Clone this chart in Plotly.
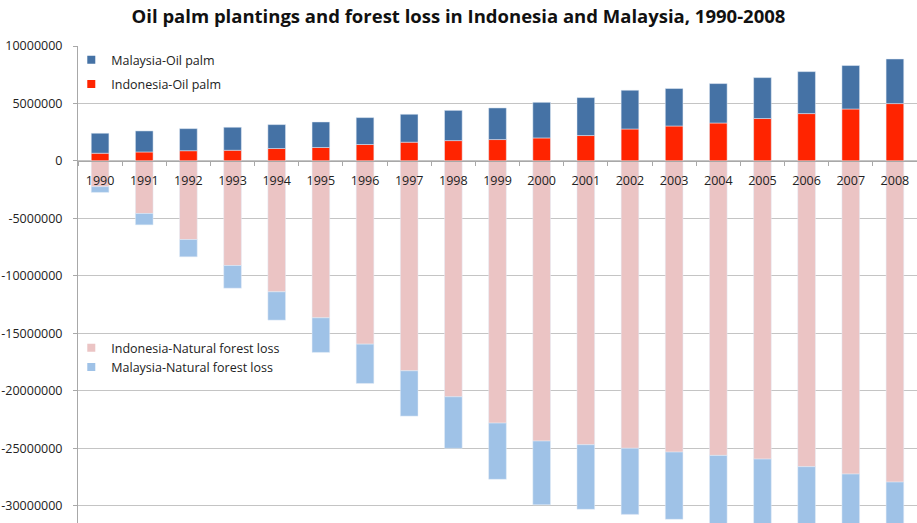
import plotly.graph_objects as go

years = [str(y) for y in range(1990, 2009)]
# Oil palm planted area (positive stack)
indonesia_palm = [670000, 780000, 890000, 930000, 1080000, 1170000, 1430000, 1630000, 1770000,
                  1860000, 2000000, 2210000, 2780000, 3040000, 3300000, 3690000, 4120000, 4520000, 4990000]
palm_total = [2410000, 2610000, 2810000, 2930000, 3160000, 3390000, 3770000, 4060000, 4400000,
              4610000, 5100000, 5510000, 6150000, 6300000, 6730000, 7250000, 7770000, 8300000, 8870000]
malaysia_palm = [t - i for t, i in zip(palm_total, indonesia_palm)]
# Natural forest loss (negative stack)
indonesia_loss = [-2240000, -4570000, -6840000, -9100000, -11390000, -13650000, -15940000, -18260000,
                  -20520000, -22810000, -24370000, -24690000, -25000000, -25330000, -25620000,
                  -25940000, -26600000, -27240000, -27940000]
malaysia_loss = [-500000, -990000, -1500000, -1970000, -2460000, -3010000, -3420000, -3940000,
                 -4480000, -4890000, -5550000, -5620000, -5750000, -5850000, -6000000,
                 -6100000, -6200000, -6300000, -6400000]
y_ticks = [10000000, 5000000, 0, -5000000, -10000000, -15000000, -20000000, -25000000, -30000000]

C_MY_PALM = "#4572A5"
C_ID_PALM = "#FF2400"
C_ID_LOSS = "#EBC4C4"
C_MY_LOSS = "#9FC2E7"

FONT = "Open Sans"
W, H = 917, 523

fig = go.Figure()
fig.add_trace(go.Bar(x=years, y=indonesia_palm, name="Indonesia-Oil palm", marker_color=C_ID_PALM,
                     showlegend=False))
fig.add_trace(go.Bar(x=years, y=malaysia_palm, name="Malaysia-Oil palm", marker_color=C_MY_PALM,
                     showlegend=False))
fig.add_trace(go.Bar(x=years, y=indonesia_loss, name="Indonesia-Natural forest loss",
                     marker_color=C_ID_LOSS, showlegend=False))
fig.add_trace(go.Bar(x=years, y=malaysia_loss, name="Malaysia-Natural forest loss",
                     marker_color=C_MY_LOSS, showlegend=False))

# legend entries (small square swatches)
legend_items = [
    ("Malaysia-Oil palm", C_MY_PALM, "legend", "g1"),
    ("Indonesia-Oil palm", C_ID_PALM, "legend", "g2"),
    ("Indonesia-Natural forest loss", C_ID_LOSS, "legend2", "g3"),
    ("Malaysia-Natural forest loss", C_MY_LOSS, "legend2", "g4"),
]
for name, col, leg, grp in legend_items:
    fig.add_trace(go.Scatter(x=[None], y=[None], mode="markers", name=name, legend=leg,
                             legendgroup=grp,
                             marker=dict(symbol="square", size=8, color=col)))

fig.update_layout(
    width=W, height=H,
    margin=dict(l=78, r=0, t=46, b=0, autoexpand=False),
    paper_bgcolor="white", plot_bgcolor="white",
    barmode="relative", bargap=0.6,
    font=dict(family=FONT, size=12.5, color="#222222"),
    title=dict(text="Oil palm plantings and forest loss in Indonesia and Malaysia, 1990-2008",
               x=458.5 / W, xref="container", xanchor="center",
               y=1 - 17 / H, yref="container", yanchor="middle",
               font=dict(family=FONT, size=18.5, color="#111111", weight="bold")),
    xaxis=dict(type="category", range=[-0.5, 18.5], anchor="free", position=31.5 / 41.5,
               showline=True, linecolor="#A8A8A8", linewidth=1,
               ticks="outside", ticklen=4, tickcolor="#A8A8A8", tickson="boundaries",
               showgrid=False, ticklabelstandoff=8, layer="above traces",
               tickfont=dict(family=FONT, size=12.5, color="#222222")),
    yaxis=dict(range=[-31500000, 10000000], tickvals=y_ticks, ticktext=[str(v) for v in y_ticks],
               showgrid=True, gridcolor="#C4C4C4", gridwidth=1, zeroline=False,
               showline=True, linecolor="#A8A8A8", linewidth=1,
               ticks="outside", ticklen=4, tickcolor="#A8A8A8", ticklabelstandoff=8,
               tickfont=dict(family=FONT, size=12.5, color="#222222")),
    legend=dict(x=-0.008, xanchor="left", y=1 + 1 / 477, yanchor="top", bgcolor="rgba(0,0,0,0)",
                traceorder="grouped", tracegroupgap=5, itemwidth=30,
                font=dict(family=FONT, size=12.5, color="#222222")),
    legend2=dict(x=-0.008, xanchor="left", y=1 - 287 / 477, yanchor="top",
                 bgcolor="rgba(0,0,0,0)", traceorder="normal", itemwidth=30,
                 font=dict(family=FONT, size=12.5, color="#222222")),
)

fig.write_html("out.html", config={"displayModeBar": False},
               post_script="document.body.style.margin='0';")
